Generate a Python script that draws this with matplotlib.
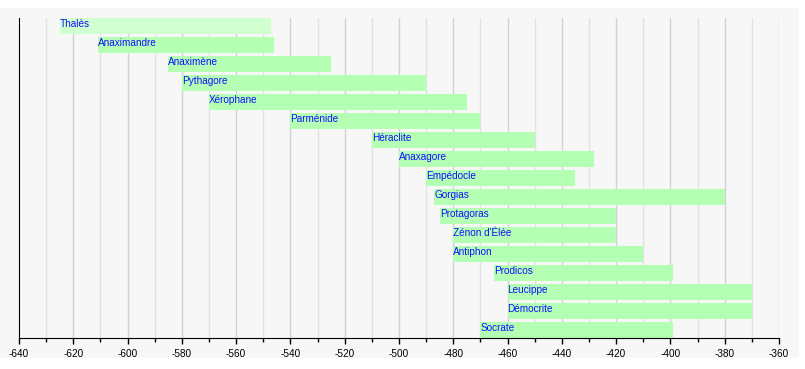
import matplotlib
matplotlib.use("Agg")
import matplotlib.pyplot as plt
from matplotlib.patches import Rectangle
from matplotlib.ticker import MultipleLocator

plt.rcParams["axes.unicode_minus"] = False

# ── Data ────────────────────────────────────────────────────────────────
names = ["Thalès", "Anaximandre", "Anaximène", "Pythagore", "Xérophane",
         "Parménide", "Héraclite", "Anaxagore", "Empédocle", "Gorgias",
         "Protagoras", "Zénon d'Élée", "Antiphon", "Prodicos", "Leucippe",
         "Démocrite", "Socrate"]
starts = [-625, -611, -585, -580, -570, -540, -510, -500, -490, -487,
          -485, -480, -480, -465, -460, -460, -470]
ends = [-547, -546, -525, -490, -475, -470, -450, -428, -435, -380,
        -420, -420, -410, -399, -370, -370, -399]

W, H = 805, 369
BAR_H = 16 / 19

fig = plt.figure(figsize=(W / 100, H / 100), dpi=100, facecolor="white")
# gray panel behind the chart
fig.patches.append(Rectangle((0, 1 - 358 / H), 799 / W, 350 / H,
                             transform=fig.transFigure, facecolor="#f7f7f7",
                             edgecolor="none", zorder=-10))

ax = fig.add_axes([19 / W, 1 - 338 / H, 760 / W, 320 / H])
ax.set_facecolor("none")

for i, (n, s, e) in enumerate(zip(names, starts, ends)):
    col = "#d0ffd0" if i == 0 else "#b5ffb5"
    ax.barh(i, e - s, left=s, height=BAR_H, color=col, zorder=2)
    ax.text(s, i + 0.04, n, color="#1010ff", fontsize=7.2,
            family="Liberation Sans", va="baseline", ha="left", zorder=3)

ax.set_xlim(-640, -360)
ax.set_ylim(len(names) - 1 + BAR_H / 2, -BAR_H / 2)

# gridlines, darker every 20
for x in range(-630, -359, 10):
    c = "#d2d2d2" if x % 20 == 0 else "#e2e2e2"
    ax.axvline(x, color=c, lw=1, zorder=1)

ax.xaxis.set_major_locator(MultipleLocator(20))
ax.xaxis.set_minor_locator(MultipleLocator(10))
ax.tick_params(axis="x", which="major", length=4, width=1, pad=4,
               labelsize=7.2, direction="out")
ax.tick_params(axis="x", which="minor", length=3, width=1, direction="out")
for lbl in ax.get_xticklabels():
    lbl.set_family("Liberation Sans")
ax.set_yticks([])

for sp in ["top", "right"]:
    ax.spines[sp].set_visible(False)
ax.spines["left"].set_color("black")
ax.spines["bottom"].set_color("black")

fig.savefig("out.png", dpi=100, facecolor="white")
